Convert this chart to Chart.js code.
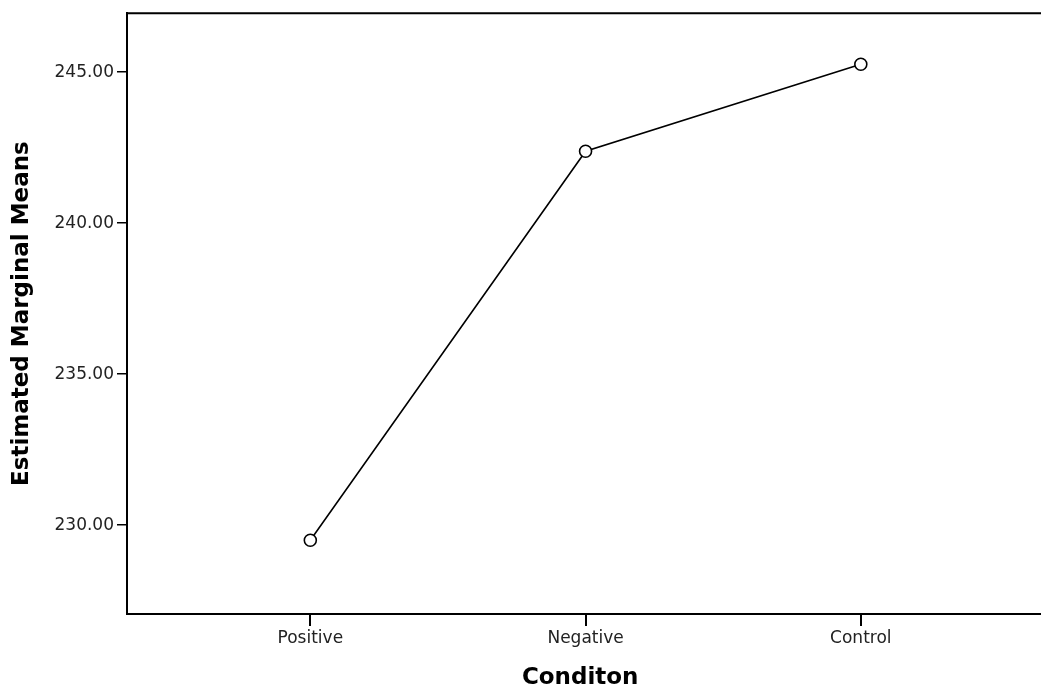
<!DOCTYPE html>
<html>
<head>
<meta charset="utf-8">
<script src="https://cdn.jsdelivr.net/npm/chart.js@4"></script>
<style>
    html, body { margin: 0; padding: 0; background: #fff; }
    #wrap { width: 1041px; height: 694px; }
</style>
</head>
<body>
<div id="wrap"><canvas id="chart"></canvas></div>
<script>
const categories = ['Positive', 'Negative', 'Control'];
const positions = [1, 2, 3];
const means = [229.5, 242.38, 245.26];
const yTicks = [230, 235, 240, 245];

// SPSS style box: top line, and the axis line runs on to the right edge
const frame = {
    id: 'frame',
    afterDraw(chart) {
        const {ctx, chartArea} = chart;
        ctx.save();
        ctx.strokeStyle = '#000';
        ctx.lineWidth = 2;
        ctx.beginPath();
        ctx.moveTo(chartArea.left, chartArea.top);
        ctx.lineTo(chart.width, chartArea.top);
        ctx.moveTo(chartArea.right - 1, chartArea.bottom);
        ctx.lineTo(chart.width, chartArea.bottom);
        ctx.stroke();
        ctx.restore();
    }
};

let ctx = document.getElementById('chart').getContext('2d');

new Chart(ctx, {
    type: 'line',
    data: {
        datasets: [{
            data: positions.map((x, i) => ({x: x, y: means[i]})),
            borderColor: '#000',
            borderWidth: 1.6,
            pointRadius: 6,
            pointBorderWidth: 1.6,
            pointBorderColor: '#000',
            pointBackgroundColor: '#fff',
            tension: 0
        }]
    },
    options: {
        responsive: true,
        maintainAspectRatio: false,
        animation: false,
        layout: { padding: { top: 12, left: 0, right: 0, bottom: 0 } },
        plugins: {
            legend: { display: false },
            tooltip: { enabled: false }
        },
        scales: {
            x: {
                type: 'linear',
                min: 0.334,
                max: 3.627,
                afterBuildTicks: (axis) => { axis.ticks = positions.map(v => ({value: v})); },
                afterFit: (axis) => { axis.height = 80; },
                ticks: {
                    color: '#222',
                    padding: 2,
                    font: { family: 'DejaVu Sans', size: 17 },
                    callback: (value) => categories[positions.indexOf(value)] || ''
                },
                grid: { display: true, drawOnChartArea: false, drawTicks: true, tickLength: 12, color: '#000', lineWidth: 2 },
                border: { display: true, color: '#000', width: 2 },
                title: {
                    display: true,
                    text: 'Conditon',
                    color: '#000',
                    padding: { top: 0, bottom: 2 },
                    font: { family: 'DejaVu Sans', size: 23, weight: 'bold' }
                }
            },
            y: {
                min: 227.06,
                max: 246.95,
                afterBuildTicks: (axis) => { axis.ticks = yTicks.map(v => ({value: v})); },
                afterFit: (axis) => { axis.width = 127; },
                ticks: {
                    color: '#222',
                    padding: 3,
                    font: { family: 'DejaVu Sans', size: 17 },
                    callback: (value) => value.toFixed(2)
                },
                grid: { display: true, drawOnChartArea: false, drawTicks: true, tickLength: 10, color: '#000', lineWidth: 1.5 },
                border: { display: true, color: '#000', width: 2 },
                title: {
                    display: true,
                    text: 'Estimated Marginal Means',
                    color: '#000',
                    padding: { top: 8, bottom: 0 },
                    font: { family: 'DejaVu Sans', size: 23, weight: 'bold' }
                }
            }
        }
    },
    plugins: [frame]
});
</script>
</body>
</html>
